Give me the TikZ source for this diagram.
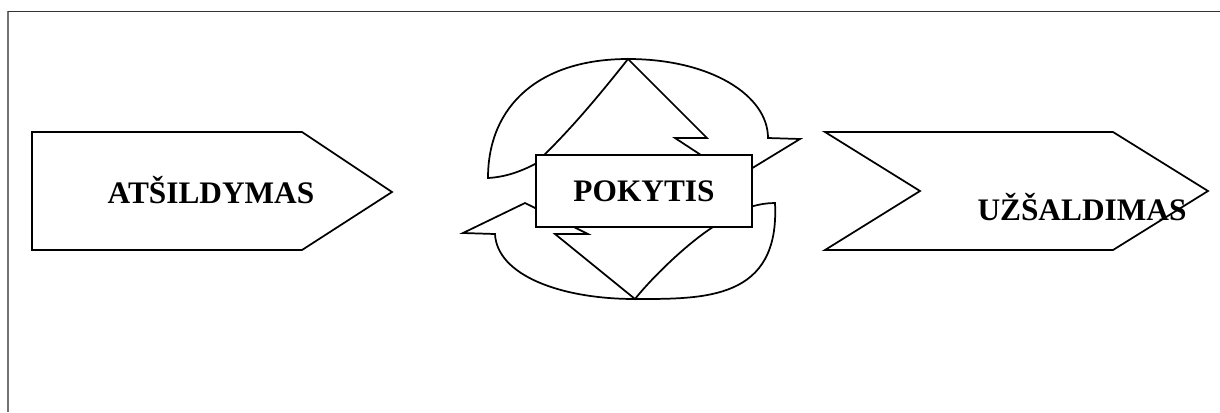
\documentclass[tikz,border=0pt]{standalone}
\usepackage{fontspec}
\setmainfont{Liberation Serif}
\tikzset{
  shapeline/.style={draw, line width=1.3pt, fill=white, line join=miter},
  bigtxt/.style={font=\bfseries\fontsize{23.5}{28}\selectfont, inner sep=0pt}
}

\begin{document}
\begin{tikzpicture}[x=0.75pt, y=-0.75pt]
  \useasboundingbox (0,0) rectangle (1220,412);
  % page frame
  \draw[line width=1.8pt, black!55] (8,11) -- (8,412);
  \draw[line width=1.3pt, black!80] (8,11.5) -- (1220,11.5);

  % left block
  \draw[shapeline] (32,132) -- (302,132) -- (392,192) -- (302,250) -- (32,250) -- cycle;
  \node[bigtxt, anchor=base] (warm) at (211,203) {ATŠILDYMAS};

  % right block
  \draw[shapeline] (825,132) -- (1113,132) -- (1208,191) -- (1113,250) -- (825,250) -- (920,191) -- cycle;

  % upper curved arrow
  \draw[shapeline] (628,59) .. controls (710,59) and (768,95) .. (768,138) -- (800,139) -- (736,178)
    -- (675,138) -- (707,138) -- (628,59) .. controls (605,88) and (575,125) .. (543,156)
    -- (548,163) -- (537,163) .. controls (520,172) and (505,177) .. (488,178)
    .. controls (488,105) and (540,59) .. cycle;
  % lower curved arrow
  \draw[shapeline] (635,299) .. controls (650,280) and (685,245) .. (713,227) -- (745,215)
    -- (750,207) .. controls (760,204) and (768,203) .. (775,203)
    .. controls (780,300) and (705,299) .. (635,299)
    .. controls (560,299) and (497,275) .. (495,234) -- (463,233) -- (525,203)
    -- (588,234) -- (555,234) -- cycle;

  % middle box
  \node[shapeline, bigtxt, minimum width=162pt, minimum height=54pt] (change) at (644,191) {POKYTIS};

  \node[bigtxt, anchor=base] (freeze) at (1082,220) {UŽŠALDIMAS};
\end{tikzpicture}
\end{document}
